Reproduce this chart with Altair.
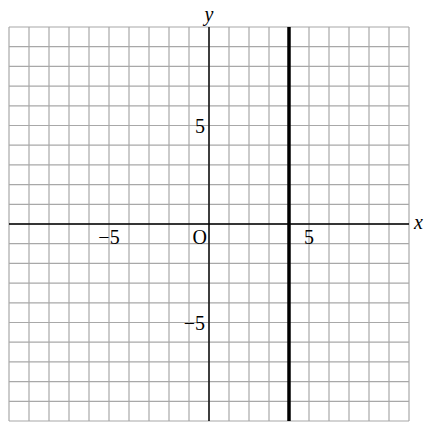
import altair as alt
import pandas as pd

# grid positions
grid_vals = list(range(-10, 11))
# tick labels on the x axis
x_tick_vals = [-5, 5]
x_tick_labels = ["−5", "5"]
# tick labels on the y axis
y_tick_vals = [5, -5]
y_tick_labels = ["5", "−5"]
# the vertical line x = 4
line_x = [4]

W, H = 400, 394
xs = alt.Scale(domain=[-10, 10], nice=False, zero=False)
ys = alt.Scale(domain=[-10, 10], nice=False, zero=False)

grid_df = pd.DataFrame({"v": grid_vals})

vgrid = alt.Chart(grid_df).mark_rule(color="#a8a8a8", strokeWidth=1.2).encode(
    x=alt.X("v:Q", scale=xs, axis=None)
)
hgrid = alt.Chart(grid_df).mark_rule(color="#a8a8a8", strokeWidth=1.2).encode(
    y=alt.Y("v:Q", scale=ys, axis=None)
)

axes_df = pd.DataFrame({"v": [0]})
xaxis = alt.Chart(axes_df).mark_rule(color="black", strokeWidth=1.4).encode(
    y=alt.Y("v:Q", scale=ys, axis=None)
)
yaxis = alt.Chart(axes_df).mark_rule(color="black", strokeWidth=1.4).encode(
    x=alt.X("v:Q", scale=xs, axis=None)
)

vline = alt.Chart(pd.DataFrame({"v": line_x})).mark_rule(color="black", strokeWidth=3.5).encode(
    x=alt.X("v:Q", scale=xs, axis=None)
)

FONT = "Liberation Serif"
FS = 20

xt_df = pd.DataFrame({"x": x_tick_vals, "y": [0] * len(x_tick_vals), "t": x_tick_labels})
xticks = alt.Chart(xt_df).mark_text(font=FONT, fontSize=FS, align="center", baseline="top", dy=4, color="black").encode(
    x=alt.X("x:Q", scale=xs, axis=None),
    y=alt.Y("y:Q", scale=ys, axis=None),
    text="t:N",
)

yt_df = pd.DataFrame({"x": [0] * len(y_tick_vals), "y": y_tick_vals, "t": y_tick_labels})
yticks = alt.Chart(yt_df).mark_text(font=FONT, fontSize=FS, align="right", baseline="middle", dx=-4, dy=1, color="black").encode(
    x=alt.X("x:Q", scale=xs, axis=None),
    y=alt.Y("y:Q", scale=ys, axis=None),
    text="t:N",
)

origin = alt.Chart(pd.DataFrame({"x": [0], "y": [0], "t": ["O"]})).mark_text(
    font=FONT, fontSize=FS, align="right", baseline="top", dx=-2, dy=4, color="black"
).encode(
    x=alt.X("x:Q", scale=xs, axis=None),
    y=alt.Y("y:Q", scale=ys, axis=None),
    text="t:N",
)

xlabel = alt.Chart(pd.DataFrame({"x": [10], "y": [0], "t": ["x"]})).mark_text(
    font=FONT, fontSize=FS, fontStyle="italic", align="left", baseline="middle", dx=5, dy=-1, color="black"
).encode(
    x=alt.X("x:Q", scale=xs, axis=None),
    y=alt.Y("y:Q", scale=ys, axis=None),
    text="t:N",
)

ylabel = alt.Chart(pd.DataFrame({"x": [0], "y": [10], "t": ["y"]})).mark_text(
    font=FONT, fontSize=FS, fontStyle="italic", align="center", baseline="alphabetic", dy=-6, color="black"
).encode(
    x=alt.X("x:Q", scale=xs, axis=None),
    y=alt.Y("y:Q", scale=ys, axis=None),
    text="t:N",
)

chart = alt.layer(
    vgrid, hgrid, xaxis, yaxis, vline, xticks, yticks, origin, xlabel, ylabel
).properties(
    width=W,
    height=H,
    padding={"left": 1, "top": 19, "right": 17, "bottom": 1},
    autosize=alt.AutoSizeParams(type="none"),
    background="white",
).configure_view(stroke=None)

chart.save("out.html", embed_options={"renderer": "svg", "actions": False})
